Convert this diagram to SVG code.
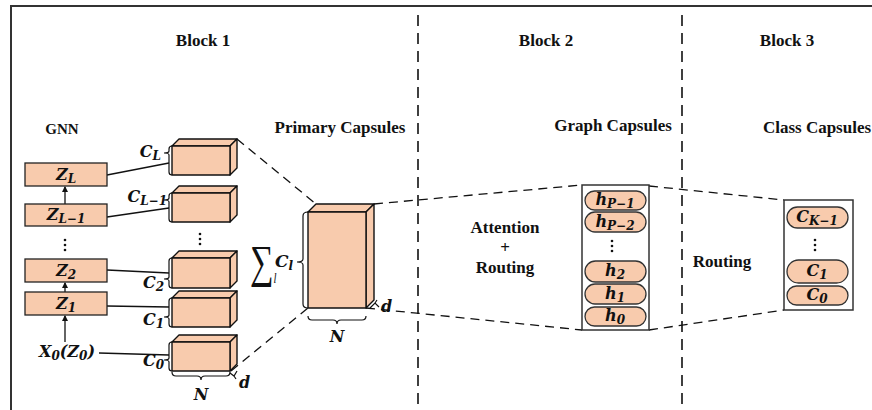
<svg xmlns="http://www.w3.org/2000/svg" width="872" height="410" viewBox="0 0 872 410">
<style>
.t{font-family:"Liberation Serif","Times New Roman",serif;font-weight:bold;font-size:17px;fill:#111}
.m{font-family:"DejaVu Serif","Liberation Serif",serif;font-weight:bold;font-style:italic;font-size:16px;fill:#111}
.s{font-size:12px}
.box{fill:#F8CBAD;stroke:#222;stroke-width:1.3}
.cube{fill:#F8CBAD;stroke:#111;stroke-width:1.4;stroke-linejoin:round}
.pill{fill:#F8CBAD;stroke:#333;stroke-width:1.3}
.cont{fill:#fff;stroke:#333;stroke-width:1.5}
.ln{stroke:#111;stroke-width:1.3;fill:none}
.br{stroke:#111;stroke-width:1.2;fill:none}
.dash{stroke:#111;stroke-width:1.3;fill:none;stroke-dasharray:9 6}
.sep{stroke:#111;stroke-width:1.6;fill:none;stroke-dasharray:11 7}
.dot{fill:#111}
</style>
<defs>
<marker id="ah" viewBox="0 0 6 6" refX="5" refY="3" markerWidth="5" markerHeight="5" orient="auto">
<path d="M0,0 L6,3 L0,6 z" fill="#111"/>
</marker>
</defs>
<rect width="872" height="410" fill="#fff"/>
<path d="M11,410 L11,6 L872,6" stroke="#333" stroke-width="2" fill="none"/>
<line class="sep" x1="418" y1="15" x2="418" y2="410"/>
<line class="sep" x1="682" y1="15" x2="682" y2="410"/>
<text class="t" x="203" y="46" text-anchor="middle">Block 1</text>
<text class="t" x="546" y="46" text-anchor="middle">Block 2</text>
<text class="t" x="787" y="46" text-anchor="middle">Block 3</text>
<text class="t" x="62" y="134" text-anchor="middle" style="font-size:15px">GNN</text>
<text class="t" x="340" y="133" text-anchor="middle">Primary Capsules</text>
<text class="t" x="613" y="131" text-anchor="middle">Graph Capsules</text>
<text class="t" x="817" y="133" text-anchor="middle">Class Capsules</text>
<text class="t" x="505" y="233" text-anchor="middle">Attention</text>
<text class="t" x="505" y="253" text-anchor="middle">+</text>
<text class="t" x="505" y="273" text-anchor="middle">Routing</text>
<text class="t" x="722" y="267" text-anchor="middle">Routing</text>

<g id="connectors">
<line class="ln" x1="65" y1="204" x2="65" y2="187" marker-end="url(#ah)"/>
<line class="ln" x1="65" y1="292" x2="65" y2="283" marker-end="url(#ah)"/>
<line class="ln" x1="65" y1="342" x2="65" y2="316" marker-end="url(#ah)"/>
<line class="ln" x1="107" y1="175" x2="169" y2="163"/>
<line class="ln" x1="107" y1="217" x2="169" y2="208"/>
<line class="ln" x1="107" y1="270" x2="169" y2="273"/>
<line class="ln" x1="107" y1="306" x2="169" y2="307"/>
<line class="ln" x1="99" y1="353" x2="169" y2="355"/>
<line class="dash" x1="237" y1="139" x2="316" y2="204"/>
<line class="dash" x1="231" y1="371" x2="308" y2="308"/>
<line class="dash" x1="374" y1="204" x2="582" y2="185"/>
<line class="dash" x1="366" y1="308" x2="582" y2="330"/>
<line class="dash" x1="649" y1="186" x2="784" y2="200"/>
<line class="dash" x1="649" y1="330" x2="784" y2="310"/>
</g>

<g id="gnn-zL"><rect class="box" x="25" y="163" width="82" height="23"/><text class="m" x="66" y="180" text-anchor="middle">Z<tspan class="s" dy="3">L</tspan></text></g>
<g id="gnn-zL1"><rect class="box" x="25" y="204" width="82" height="22"/><text class="m" x="66" y="220" text-anchor="middle">Z<tspan class="s" dy="3">L−1</tspan></text></g>
<g id="gnn-dots"><circle class="dot" cx="65" cy="240" r="1.3"/><circle class="dot" cx="65" cy="245" r="1.3"/><circle class="dot" cx="65" cy="250" r="1.3"/></g>
<g id="gnn-z2"><rect class="box" x="25" y="259" width="82" height="23"/><text class="m" x="66" y="276" text-anchor="middle">Z<tspan class="s" dy="3">2</tspan></text></g>
<g id="gnn-z1"><rect class="box" x="25" y="292" width="82" height="23"/><text class="m" x="66" y="309" text-anchor="middle">Z<tspan class="s" dy="3">1</tspan></text></g>
<g id="gnn-x0"><text class="m" x="67" y="357" text-anchor="middle">X<tspan class="s" dy="3">0</tspan><tspan dy="-3">(Z</tspan><tspan class="s" dy="3">0</tspan><tspan dy="-3">)</tspan></text></g>

<g id="cube-L">
<polygon class="cube" points="172,146 179,139 237,139 230,146"/>
<polygon class="cube" points="230,146 237,139 237,168 230,175"/>
<rect class="cube" x="172" y="146" width="58" height="29"/>
<path class="br" d="M172,146 Q169,146 169,149 L169,151 Q169,153 164,153 Q169,153 169,155 L169,172 Q169,175 172,175"/>
<text class="m" x="161" y="157" text-anchor="end">C<tspan class="s" dy="3">L</tspan></text>
</g>
<g id="cube-L1">
<polygon class="cube" points="172,193 179,186 237,186 230,193"/>
<polygon class="cube" points="230,193 237,186 237,215 230,222"/>
<rect class="cube" x="172" y="193" width="58" height="29"/>
<path class="br" d="M172,193 Q169,193 169,196 L169,198 Q169,200 164,200 Q169,200 169,202 L169,219 Q169,222 172,222"/>
<text class="m" x="167" y="202" text-anchor="end">C<tspan class="s" dy="3">L−1</tspan></text>
</g>
<g id="cube-dots"><circle class="dot" cx="200" cy="234" r="1.3"/><circle class="dot" cx="200" cy="239" r="1.3"/><circle class="dot" cx="200" cy="244" r="1.3"/></g>
<g id="cube-2">
<polygon class="cube" points="172,258 179,251 237,251 230,258"/>
<polygon class="cube" points="230,258 237,251 237,281 230,288"/>
<rect class="cube" x="172" y="258" width="58" height="30"/>
<path class="br" d="M172,258 Q169,258 169,261 L169,277 Q169,279 164,279 Q169,279 169,281 L169,285 Q169,288 172,288"/>
<text class="m" x="164" y="288" text-anchor="end">C<tspan class="s" dy="3">2</tspan></text>
</g>
<g id="cube-1">
<polygon class="cube" points="172,298 179,291 237,291 230,298"/>
<polygon class="cube" points="230,298 237,291 237,320 230,327"/>
<rect class="cube" x="172" y="298" width="58" height="29"/>
<path class="br" d="M172,298 Q169,298 169,301 L169,315 Q169,317 164,317 Q169,317 169,319 L169,324 Q169,327 172,327"/>
<text class="m" x="164" y="325" text-anchor="end">C<tspan class="s" dy="3">1</tspan></text>
</g>
<g id="cube-0">
<polygon class="cube" points="172,342 179,335 237,335 230,342"/>
<polygon class="cube" points="230,342 237,335 237,364 230,371"/>
<rect class="cube" x="172" y="342" width="58" height="29"/>
<path class="br" d="M172,342 Q169,342 169,345 L169,358 Q169,360 164,360 Q169,360 169,362 L169,368 Q169,371 172,371"/>
<text class="m" x="164" y="366" text-anchor="end">C<tspan class="s" dy="3">0</tspan></text>
<path class="br" d="M172,372 Q172,376 176,376 L197,376 Q201,376 201,380 Q201,376 205,376 L226,376 Q230,376 230,372"/>
<text class="m" x="201" y="400" text-anchor="middle">N</text>
<path class="br" d="M230,373 L234,376 L237,371 M234,376 L236,379"/>
<text class="m" x="239" y="388">d</text>
</g>

<g id="primary-capsules">
<polygon class="cube" points="308,212 316,204 374,204 366,212"/>
<polygon class="cube" points="366,212 374,204 374,300 366,308"/>
<rect class="cube" x="308" y="212" width="58" height="96"/>
<path class="br" d="M308,212 Q303,212 303,216 L303,259 Q303,262 297,262 Q303,262 303,265 L303,304 Q303,308 308,308"/>
<text transform="translate(250,277) scale(0.72,1)" style="font-family:'Liberation Serif','DejaVu Serif',serif;font-size:46px;fill:#111">∑<tspan dy="6" style="font-style:italic;font-size:15px">l</tspan></text>
<text class="m" x="275" y="267" style="font-size:17px">C<tspan class="s" dy="3">l</tspan></text>
<path class="br" d="M308,316 Q308,320 312,320 L333,320 Q337,320 337,324 Q337,320 341,320 L362,320 Q366,320 366,316"/>
<text class="m" x="337" y="342" text-anchor="middle">N</text>
<path class="br" d="M370,308 L375,303 L379,307 M375,303 L377,300"/>
<text class="m" x="381" y="312">d</text>
</g>

<g id="graph-capsules">
<rect class="cont" x="582" y="185" width="67" height="145"/>
<rect class="pill" x="585" y="191" width="61" height="19" rx="9.5"/>
<text class="m" x="615" y="205" text-anchor="middle">h<tspan class="s" dy="3">P−1</tspan></text>
<rect class="pill" x="585" y="212" width="61" height="20" rx="10"/>
<text class="m" x="615" y="227" text-anchor="middle">h<tspan class="s" dy="3">P−2</tspan></text>
<circle class="dot" cx="612" cy="241" r="1.3"/><circle class="dot" cx="612" cy="246" r="1.3"/><circle class="dot" cx="612" cy="251" r="1.3"/>
<rect class="pill" x="585" y="261" width="61" height="21" rx="10.5"/>
<text class="m" x="615" y="276" text-anchor="middle">h<tspan class="s" dy="3">2</tspan></text>
<rect class="pill" x="585" y="284" width="61" height="20" rx="10"/>
<text class="m" x="615" y="299" text-anchor="middle">h<tspan class="s" dy="3">1</tspan></text>
<rect class="pill" x="585" y="307" width="61" height="19" rx="9.5"/>
<text class="m" x="615" y="321" text-anchor="middle">h<tspan class="s" dy="3">0</tspan></text>
</g>

<g id="class-capsules">
<rect class="cont" x="784" y="200" width="69" height="110"/>
<rect class="pill" x="787" y="207" width="61" height="21" rx="10.5"/>
<text class="m" x="817" y="222" text-anchor="middle">C<tspan class="s" dy="3">K−1</tspan></text>
<circle class="dot" cx="815" cy="240" r="1.3"/><circle class="dot" cx="815" cy="245" r="1.3"/><circle class="dot" cx="815" cy="250" r="1.3"/>
<rect class="pill" x="787" y="260" width="61" height="23" rx="11.5"/>
<text class="m" x="817" y="276" text-anchor="middle">C<tspan class="s" dy="3">1</tspan></text>
<rect class="pill" x="787" y="286" width="61" height="19" rx="9.5"/>
<text class="m" x="817" y="300" text-anchor="middle">C<tspan class="s" dy="3">0</tspan></text>
</g>
</svg>
